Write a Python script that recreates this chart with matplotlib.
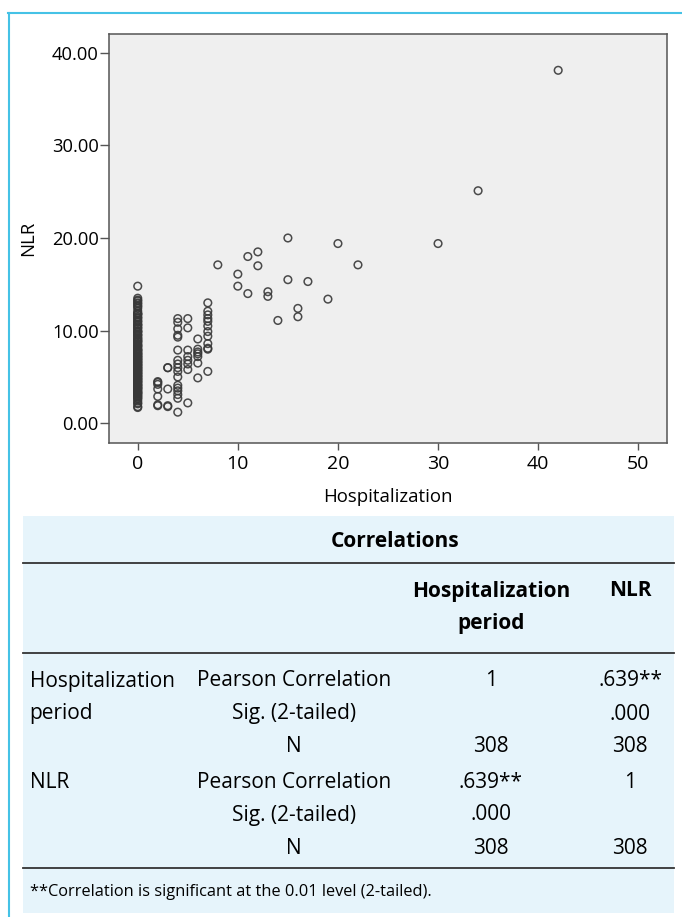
import numpy as np
import matplotlib
matplotlib.use("Agg")
import matplotlib.pyplot as plt
from matplotlib.lines import Line2D
from matplotlib.patches import Rectangle

plt.rcParams['font.family'] = ['Open Sans', 'DejaVu Sans']

# NLR values, grouped by hospitalization days
nlr_day0 = [14.8, 13.5, 13.3, 13.2, 13.0, 12.9, 12.7, 12.6, 12.4, 12.1, 11.9, 11.8, 11.8,
            11.7, 11.5, 11.4, 11.3, 11.1, 11.0, 10.9, 10.7, 10.6, 10.6, 10.4, 10.3, 10.2,
            10.0, 9.9, 9.9, 9.8, 9.6, 9.5, 9.5, 9.3, 9.2, 9.1, 9.0, 8.9, 8.8, 8.8, 8.6,
            8.5, 8.4, 8.3, 8.3, 8.1, 8.0, 7.9, 7.9, 7.8, 7.7, 7.6, 7.5, 7.5, 7.4, 7.3,
            7.2, 7.2, 7.1, 7.0, 6.9, 6.9, 6.8, 6.7, 6.6, 6.6, 6.5, 6.4, 6.3, 6.3, 6.2,
            6.1, 6.0, 6.0, 5.9, 5.8, 5.7, 5.7, 5.6, 5.5, 5.4, 5.4, 5.3, 5.2, 5.1, 5.1,
            5.0, 4.9, 4.8, 4.8, 4.7, 4.6, 4.5, 4.5, 4.4, 4.3, 4.2, 4.1, 4.1, 4.0, 3.9,
            3.8, 3.8, 3.7, 3.6, 3.5, 3.4, 3.3, 3.3, 3.2, 3.1, 3.0, 2.9, 2.8, 2.7, 2.6,
            2.4, 2.2, 2.1, 1.8, 1.7]
nlr_day2 = [4.5, 4.4, 4.2, 3.7, 2.9, 2.0, 1.9]
nlr_day3 = [6.0, 6.0, 3.7, 1.9, 1.8]
nlr_day4 = [11.3, 10.9, 10.2, 9.5, 9.3, 7.9, 6.8, 6.4, 6.0, 5.6, 5.0, 4.1, 3.8, 3.5,
            3.1, 2.7, 1.2]
nlr_day5 = [11.3, 10.3, 7.9, 7.2, 6.8, 6.4, 5.8, 2.2]
nlr_day6 = [9.1, 8.0, 7.7, 7.5, 7.2, 6.5, 4.9]
nlr_day7 = [13.0, 12.1, 11.7, 11.3, 11.0, 10.5, 9.9, 9.4, 8.6, 8.1, 8.0, 5.6]
# longer stays, one point each
long_days = [8, 10, 10, 11, 11, 12, 12, 13, 13, 14, 15, 15, 16, 16, 17, 19, 20, 22, 30, 34, 42]
long_nlr = [17.1, 16.1, 14.8, 18.0, 14.0, 18.5, 17.0, 14.2, 13.7, 11.1, 20.0, 15.5, 12.4,
            11.5, 15.3, 13.4, 19.4, 17.1, 19.4, 25.1, 38.1]

x_ticks = [0, 10, 20, 30, 40, 50]
y_ticks = [0, 10, 20, 30, 40]

# correlation table
tbl_title = "Correlations"
tbl_head = ["Hospitalization\nperiod", "NLR"]
row_groups = ["Hospitalization\nperiod", "NLR"]
row_stats = ["Pearson Correlation", "Sig. (2-tailed)", "N"] * 2
col_hosp = ["1", "", "308", ".639**", ".000", "308"]
col_nlr = [".639**", ".000", "308", "1", "", "308"]
footnote = "**Correlation is significant at the 0.01 level (2-tailed)."

groups = [(0, nlr_day0), (2, nlr_day2), (3, nlr_day3), (4, nlr_day4),
          (5, nlr_day5), (6, nlr_day6), (7, nlr_day7)]
xs, ys = [], []
for d, vals in groups:
    xs += [d] * len(vals)
    ys += vals
xs += long_days
ys += long_nlr

W, H = 682, 917
def fx(px):
    return px / W
def fy(py):
    return 1 - py / H

fig = plt.figure(figsize=(W / 100, H / 100), dpi=100)

# cyan frame (top and left only)
cyan = "#45c2e6"
fig.add_artist(Line2D([fx(8.7), fx(8.7)], [fy(917), fy(13)], color=cyan, lw=1.5))
fig.add_artist(Line2D([fx(7.8), 1], [fy(13), fy(13)], color=cyan, lw=1.5))

ax = fig.add_axes([fx(109.3), fy(443.3), (667 - 109.3) / W, (443.3 - 33.7) / H])
ax.set_facecolor("#efefef")
ax.scatter(xs, ys, s=30, facecolors="none", edgecolors="#383838", linewidths=1.1, alpha=0.9)
ax.set_xlim(-2.84, 52.87)
ax.set_ylim(-2.16, 42.05)
ax.set_xticks(x_ticks)
ax.set_yticks(y_ticks)
ax.set_yticklabels(["%.2f" % v for v in y_ticks], fontsize=13.2)
ax.set_xticklabels([str(v) for v in x_ticks], fontsize=14)
for sp in ax.spines.values():
    sp.set_color("#555555")
    sp.set_linewidth(1.1)
ax.tick_params(axis="y", length=6.5, width=1, color="#555555", pad=1)
ax.tick_params(axis="x", length=5, width=1, color="#555555", pad=3.5)
ax.set_xlabel("Hospitalization", fontsize=13.4)
ax.set_ylabel("NLR", fontsize=13.4)
ax.xaxis.set_label_coords(0.5, (443.3 - 488) / 409.6)
ax.yaxis.set_label_coords((37 - 109.3) / 557.7, 0.5)

# table background and rules
fig.add_artist(Rectangle((fx(22.6), fy(913)), fx(674) - fx(22.6), (913 - 516) / H,
                         facecolor="#e6f4fb", edgecolor="none"))
for yy in [563.3, 653, 868]:
    fig.add_artist(Line2D([fx(22.6), fx(674)], [fy(yy), fy(yy)], color="#333333", lw=1.3))

fs = 15
fig.text(fx(395), fy(541.7), tbl_title, ha="center", va="center", fontsize=fs, fontweight="bold")
fig.text(fx(491), fy(591), "Hospitalization", ha="center", va="center", fontsize=fs,
         fontweight="bold")
fig.text(fx(491), fy(624), "period", ha="center", va="center", fontsize=fs, fontweight="bold")
fig.text(fx(630), fy(591), tbl_head[1], ha="center", va="center", fontsize=fs, fontweight="bold")

row_y = [681, 714, 747, 782, 815, 848]
fig.text(fx(29.6), fy(681), "Hospitalization", ha="left", va="center", fontsize=fs)
fig.text(fx(29.6), fy(714), "period", ha="left", va="center", fontsize=fs)
fig.text(fx(29.6), fy(782), row_groups[1], ha="left", va="center", fontsize=fs)
for i, yy in enumerate(row_y):
    fig.text(fx(294), fy(yy), row_stats[i], ha="center", va="center", fontsize=fs)
    fig.text(fx(491), fy(yy), col_hosp[i], ha="center", va="center", fontsize=fs)
    fig.text(fx(630), fy(yy), col_nlr[i], ha="center", va="center", fontsize=fs)

fig.text(fx(29.6), fy(891.6), footnote, ha="left", va="center", fontsize=11.8)

fig.savefig("out.png", dpi=100)
